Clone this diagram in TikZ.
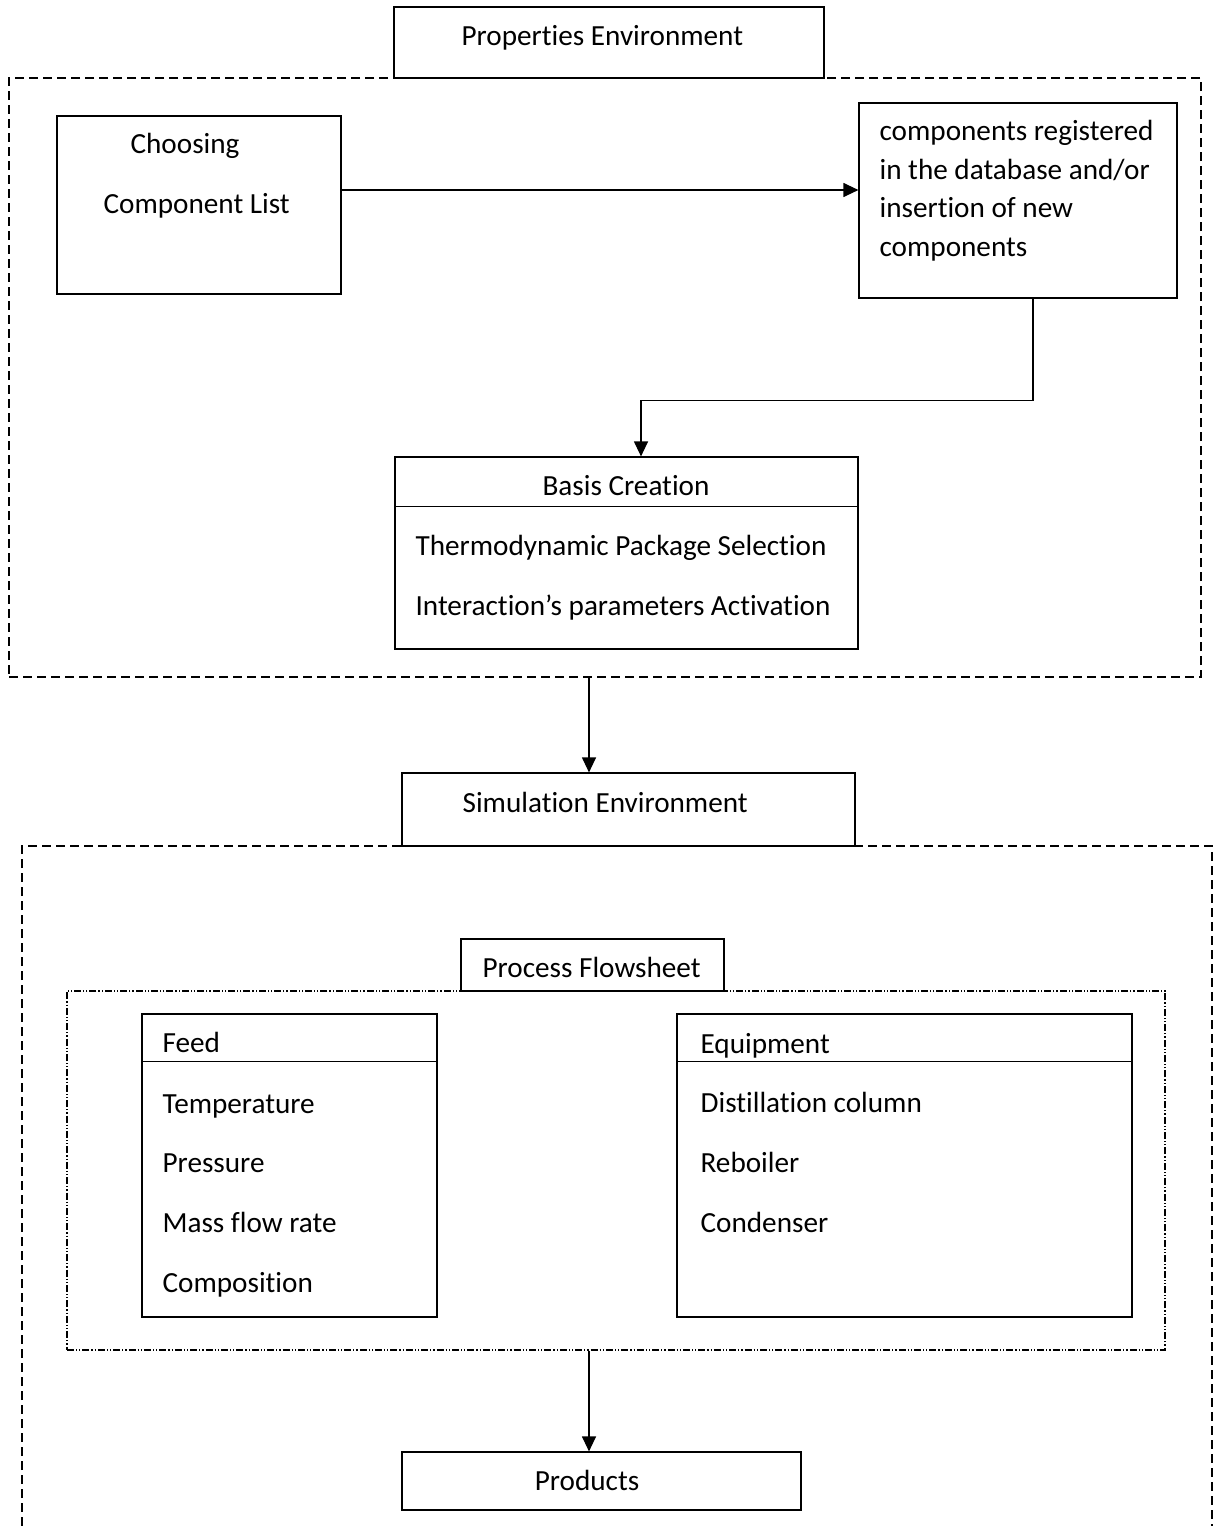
\documentclass[tikz,border=0pt]{standalone}
\usepackage{fontspec}
\setmainfont[RawFeature=-liga]{Carlito}
\usetikzlibrary{arrows.meta}

\begin{document}
\begin{tikzpicture}[x=0.5pt,y=-0.5pt,>={Triangle[length=7.5pt,width=7pt]},line width=0.6pt,
	font=\fontsize{14.6}{17}\selectfont,
	box/.style={draw,fill=white,inner sep=0pt},
	txt/.style={anchor=base west,inner sep=0pt},
	frame/.style={draw,line width=1pt,dash pattern=on 4.5pt off 2.5pt,inner sep=0pt},
	dotframe/.style={draw,line width=0.6pt,dash pattern=on 3.5pt off 1pt on 0.6pt off 1pt on 0.6pt off 1pt,inner sep=0pt}]
	\useasboundingbox (0,0) rectangle (1214,1526);
	% frames
	\node[frame,minimum width=596pt,minimum height=299.5pt] (pframe) at (605,377.5) {};
	\draw[line width=1pt,dash pattern=on 4.5pt off 2.5pt] (22,1526) -- (22,846) -- (1212,846) -- (1212,1526); % open at the bottom
	\node[dotframe,minimum width=549pt,minimum height=179.5pt] (fframe) at (616,1170.5) {};
	% properties environment
	\node[box,minimum width=215pt,minimum height=35.5pt] (ptitle) at (609,42.5) {};
	\node[txt] (ptitlet) at (461,45) {Properties Environment};
	\node[box,minimum width=142pt,minimum height=89pt] (choose) at (199,205) {};
	\node[txt] (choose1) at (130,153) {Choosing};
	\node[txt] (choose2) at (103,213) {Component List};
	\node[box,minimum width=159pt,minimum height=97.5pt] (comp) at (1018,200.5) {};
	\node[txt] (comp1) at (879,140) {components registered};
	\node[txt] (comp2) at (879,179) {in the database and/or};
	\node[txt] (comp3) at (879,217) {insertion of new};
	\node[txt] (comp4) at (879,256) {components};
	\node[box,minimum width=231.5pt,minimum height=96pt] (basis) at (626.5,553) {};
	\draw ([yshift=-25pt]basis.north west) -- ([yshift=-25pt]basis.north east);
	\node[txt] (basis0) at (542,495) {Basis Creation};
	\node[txt] (basis1) at (415,555) {Thermodynamic Package Selection};
	\node[txt] (basis2) at (415,615) {Interaction’s parameters Activation};
	% simulation environment
	\node[box,minimum width=226.5pt,minimum height=36.5pt] (sim) at (628.5,809.5) {};
	\node[txt] (simt) at (462,812) {Simulation Environment};
	\node[box,minimum width=131.5pt,minimum height=26pt] (flow) at (592.5,965) {};
	\node[txt] (flowt) at (482,977) {Process Flowsheet};
	\node[box,minimum width=147.5pt,minimum height=151.5pt] (feed) at (289.5,1165.5) {};
	\draw ([yshift=-24pt]feed.north west) -- ([yshift=-24pt]feed.north east);
	\node[txt] (feed0) at (162,1052) {Feed};
	\node[txt] (feed1) at (162,1113) {Temperature};
	\node[txt] (feed2) at (162,1172) {Pressure};
	\node[txt] (feed3) at (162,1232) {Mass flow rate};
	\node[txt] (feed4) at (162,1292) {Composition};
	\node[box,minimum width=227.5pt,minimum height=151.5pt] (equip) at (904.5,1165.5) {};
	\draw ([yshift=-24pt]equip.north west) -- ([yshift=-24pt]equip.north east);
	\node[txt] (equip0) at (700,1053) {Equipment};
	\node[txt] (equip1) at (700,1112) {Distillation column};
	\node[txt] (equip2) at (700,1172) {Reboiler};
	\node[txt] (equip3) at (700,1232) {Condenser};
	\node[box,minimum width=199.5pt,minimum height=29pt] (prod) at (601.5,1481) {};
	\node[anchor=base,inner sep=0pt] (prodt) at (587,1490) {Products};
	% arrows
	\draw[->] ([yshift=7.5pt]choose.east) -- ([yshift=7.5pt]choose.east -| comp.west);
	\draw[->] ([xshift=7.5pt]comp.south) -- ++(0,102) -| ([xshift=7.25pt]basis.north);
	\draw[->] ([xshift=-8pt]pframe.south) -- ([xshift=-8pt]pframe.south |- sim.north);
	\draw[->] ([xshift=-13.5pt]fframe.south) -- ([xshift=-13.5pt]fframe.south |- prod.north);
\end{tikzpicture}
\end{document}
